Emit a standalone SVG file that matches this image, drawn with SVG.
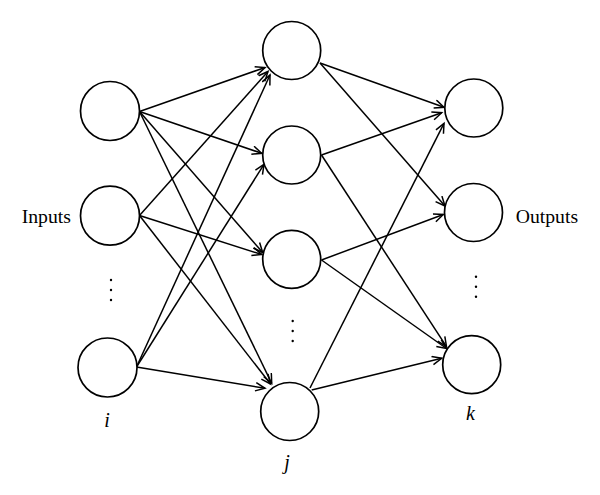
<svg xmlns="http://www.w3.org/2000/svg" width="600" height="495" viewBox="0 0 600 495">
<style>
.node{fill:#fff;stroke:#000;stroke-width:1.7}
.edge{stroke:#000;stroke-width:1.5;fill:none;marker-end:url(#arr)}
.lbl{font-family:"Liberation Serif",serif;font-size:19.7px;fill:#000}
.var{font-family:"Liberation Serif",serif;font-size:20px;font-style:italic;fill:#000}
.dot{fill:#000}
</style>
<defs>
<marker id="arr" markerUnits="userSpaceOnUse" markerWidth="14" markerHeight="12" refX="10" refY="5" orient="auto">
<path d="M0.5,0.8 L10,5 L0.5,9.2" fill="none" stroke="#000" stroke-width="1.5"/>
</marker>
</defs>
<rect width="600" height="495" fill="#fff"/>
<g id="connectors">
<line class="edge" x1="139.5" y1="111.5" x2="265" y2="67.5"/>
<line class="edge" x1="139.5" y1="111.5" x2="261.7" y2="153.3"/>
<line class="edge" x1="139.5" y1="111.5" x2="262.7" y2="252.5"/>
<line class="edge" x1="139.5" y1="111.5" x2="271.7" y2="383.3"/>
<line class="edge" x1="139.5" y1="215.5" x2="268" y2="71.5"/>
<line class="edge" x1="139.5" y1="215.5" x2="261.7" y2="254.5"/>
<line class="edge" x1="139.5" y1="215.5" x2="270.5" y2="384"/>
<line class="edge" x1="136.5" y1="367" x2="270" y2="75"/>
<line class="edge" x1="136.5" y1="367" x2="264" y2="164.3"/>
<line class="edge" x1="136.5" y1="367" x2="265" y2="388.3"/>
<line class="edge" x1="320" y1="63" x2="444" y2="107.3"/>
<line class="edge" x1="320" y1="63" x2="445" y2="206"/>
<line class="edge" x1="321.5" y1="155" x2="441.7" y2="112.7"/>
<line class="edge" x1="321.5" y1="155" x2="446.5" y2="346.7"/>
<line class="edge" x1="321.5" y1="260" x2="443.3" y2="214.5"/>
<line class="edge" x1="321.5" y1="260" x2="446.5" y2="348.5"/>
<line class="edge" x1="310" y1="388" x2="444" y2="123.3"/>
<line class="edge" x1="311.7" y1="390" x2="441.7" y2="358.3"/>
</g>
<g id="in1"><circle class="node" cx="110" cy="111" r="29.5"/></g>
<g id="in2"><circle class="node" cx="110" cy="215.7" r="29.5"/></g>
<g id="in3"><circle class="node" cx="107.5" cy="367.5" r="29.5"/></g>
<g id="h1"><circle class="node" cx="291.7" cy="50.5" r="29"/></g>
<g id="h2"><circle class="node" cx="291.7" cy="155" r="29"/></g>
<g id="h3"><circle class="node" cx="291.7" cy="259.3" r="29"/></g>
<g id="h4"><circle class="node" cx="289.7" cy="411.5" r="29"/></g>
<g id="o1"><circle class="node" cx="473.8" cy="108" r="29"/></g>
<g id="o2"><circle class="node" cx="473.5" cy="212.5" r="29"/></g>
<g id="o3"><circle class="node" cx="471.7" cy="364.7" r="29"/></g>
<g id="dots">
<circle class="dot" cx="111" cy="280" r="1.2"/><circle class="dot" cx="111" cy="290" r="1.2"/><circle class="dot" cx="111" cy="300" r="1.2"/>
<circle class="dot" cx="292.7" cy="321" r="1.2"/><circle class="dot" cx="292.7" cy="331" r="1.2"/><circle class="dot" cx="292.7" cy="341" r="1.2"/>
<circle class="dot" cx="476" cy="276.7" r="1.2"/><circle class="dot" cx="476" cy="286.7" r="1.2"/><circle class="dot" cx="476" cy="296.7" r="1.2"/>
</g>
<g id="labels">
<text class="lbl" x="21.7" y="223">Inputs</text>
<text class="lbl" x="515.7" y="222.7">Outputs</text>
<text class="var" x="107" y="427" text-anchor="middle">i</text>
<text class="var" x="287" y="469" text-anchor="middle">j</text>
<text class="var" x="470.5" y="420" text-anchor="middle">k</text>
</g>
</svg>
